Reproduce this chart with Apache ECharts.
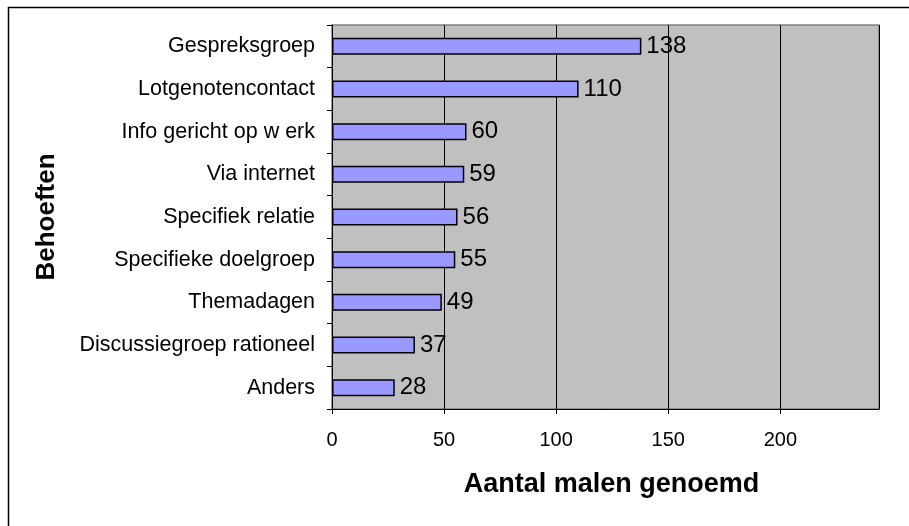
<!DOCTYPE html>
<html>
<head>
<meta charset="utf-8">
<script src="https://cdn.jsdelivr.net/npm/echarts@6/dist/echarts.min.js"></script>
<style>html,body{margin:0;padding:0;background:#fff}#c{width:909px;height:526px}</style>
</head>
<body>
<div id="c"></div>
<script>
var categories = ["Gespreksgroep","Lotgenotencontact","Info gericht op w erk","Via internet","Specifiek relatie","Specifieke doelgroep","Themadagen","Discussiegroep rationeel","Anders"];
var values = [138,110,60,59,56,55,49,37,28];
var xTicks = [0,50,100,150,200];

var chart = echarts.init(document.getElementById('c'), null, {renderer:'canvas'});
chart.setOption({
  animation:false,
  backgroundColor:'#fff',
  graphic:[{type:'rect',left:6,top:5,shape:{width:920,height:540},style:{fill:'none',stroke:'#000',lineWidth:1.5},z:-10}],
  grid:{left:332,top:25,width:547,height:384,show:true,backgroundColor:'#c0c0c0',borderColor:'#808080',borderWidth:1.5},
  xAxis:{type:'value',min:0,max:244,interval:50,
    name:'Aantal malen genoemd',nameLocation:'middle',nameGap:62,
    nameTextStyle:{fontFamily:'Liberation Sans',fontSize:27,fontWeight:'bold',color:'#000',padding:[0,0,0,12]},
    axisLine:{show:true,lineStyle:{color:'#000',width:1}},
    axisTick:{show:true,length:5,lineStyle:{color:'#000'}},
    axisLabel:{showMaxLabel:false,fontFamily:'Liberation Sans',fontSize:20,color:'#000',margin:21,
      formatter:function(v){return xTicks.indexOf(v)>=0?String(v):'';}},
    splitLine:{show:true,lineStyle:{color:'#000',width:1}}
  },
  yAxis:{type:'category',data:categories,inverse:true,
    name:'Behoeften',nameLocation:'middle',nameGap:272,nameRotate:90,
    nameTextStyle:{fontFamily:'Liberation Sans',fontSize:26,fontWeight:'bold',color:'#000'},
    axisLine:{show:true,lineStyle:{color:'#000',width:1}},
    axisTick:{show:true,length:5,inside:false,lineStyle:{color:'#000'}},
    axisLabel:{fontFamily:'Liberation Sans',fontSize:21.5,color:'#000',margin:17},
    splitLine:{show:false}
  },
  series:[{type:'bar',data:values,barWidth:17,
    itemStyle:{color:'#9999ff',borderColor:'#000',borderWidth:1.5},
    label:{show:true,position:'right',distance:5,fontFamily:'Liberation Sans',fontSize:24,color:'#000'}
  }]
});
</script>
</body>
</html>
